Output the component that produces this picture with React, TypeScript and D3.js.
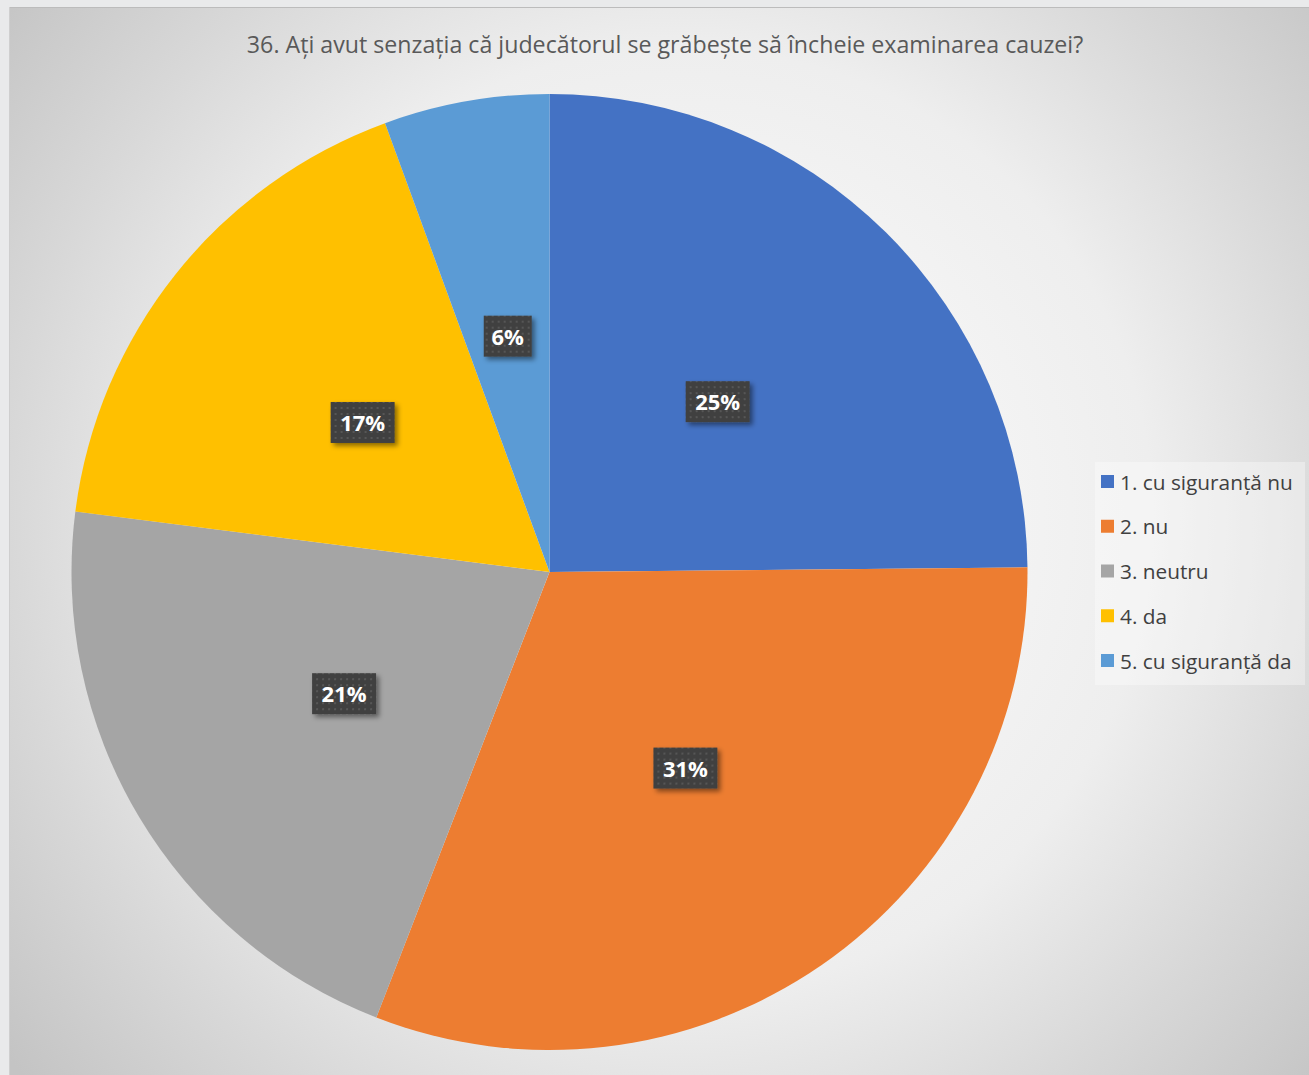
import React from "react";
import * as d3 from "d3";

const categories = ["1. cu siguranță nu", "2. nu", "3. neutru", "4. da", "5. cu siguranță da"];
const values = [40, 50, 34, 28, 9];
const colors = ["#4472C4", "#ED7D31", "#A5A5A5", "#FFC000", "#5B9BD5"];
const title = "36. Ați avut senzația că judecătorul se grăbește să încheie examinarea cauzei?";

const W = 1309;
const H = 1075;

export default function App() {
  const cx = 549.5;
  const cy = 572;
  const R = 478;
  const total = d3.sum(values);
  const pie = d3.pie<number>().sort(null).value((d) => d);
  const arcs = pie(values);
  const arc = d3.arc<d3.PieArcDatum<number>>().innerRadius(0).outerRadius(R);
  const labelArc = d3.arc<d3.PieArcDatum<number>>().innerRadius(R * 0.5).outerRadius(R * 0.5);
  const fmt = (v: number) => `${Math.round((v / total) * 100)}%`;
  const legendY = d3.scalePoint<string>().domain(categories).range([482, 661]);

  return (
    <svg width={W} height={H} style={{ position: "absolute", left: 0, top: 0 }} fontFamily="'Open Sans', sans-serif">
      <defs>
        <radialGradient id="bg" gradientUnits="userSpaceOnUse" cx={680} cy={520} r={860}>
          <stop offset="0" stopColor="#ffffff" />
          <stop offset="0.55" stopColor="#eeeeee" />
          <stop offset="0.78" stopColor="#d8d8d8" />
          <stop offset="1" stopColor="#c4c4c4" />
        </radialGradient>
        <pattern id="dots" width="6" height="6" patternUnits="userSpaceOnUse">
          <rect width="6" height="6" fill="#404040" />
          <rect x="2" y="2" width="2" height="2" fill="#565656" />
        </pattern>
        <filter id="shadow" x="-30%" y="-30%" width="160%" height="170%">
          <feDropShadow dx="3" dy="3" stdDeviation="2.5" floodColor="#000" floodOpacity="0.45" />
        </filter>
      </defs>
      <rect x={0} y={0} width={W} height={H} fill="#e9eaeb" />
      <rect x={9} y={7} width={W - 9} height={H - 7} fill="url(#bg)" />
      <line x1={9} y1={7.5} x2={W} y2={7.5} stroke="#bcbcbc" strokeWidth={1} />
      <line x1={9.5} y1={7} x2={9.5} y2={H} stroke="#cfcfcf" strokeWidth={1} />
      <text x={665} y={53} textAnchor="middle" fontSize={23.2} fill="#595959">
        {title}
      </text>
      <g transform={`translate(${cx},${cy})`}>
        {arcs.map((a, i) => (
          <path key={i} d={arc(a) as string} fill={colors[i]} />
        ))}
        {arcs.map((a, i) => {
          const [x, y] = labelArc.centroid(a);
          const t = fmt(a.data);
          const w = t.length === 2 ? 48 : 64;
          return (
            <g key={`l${i}`} transform={`translate(${x},${y})`}>
              <rect x={-w / 2} y={-21} width={w} height={41} fill="url(#dots)" filter="url(#shadow)" />
              <text x={0} y={8} textAnchor="middle" fontSize={22} fontWeight="bold" fill="#ffffff">
                {t}
              </text>
            </g>
          );
        })}
      </g>
      <rect x={1095} y={462} width={210} height={223} fill="#ffffff" opacity={0.35} />
      {categories.map((c, i) => {
        const y = legendY(c) as number;
        return (
          <g key={c}>
            <rect x={1101} y={y - 7} width={13} height={13} fill={colors[i]} />
            <text x={1120} y={y + 7.5} fontSize={20.8} fill="#404040">
              {c}
            </text>
          </g>
        );
      })}
    </svg>
  );
}
